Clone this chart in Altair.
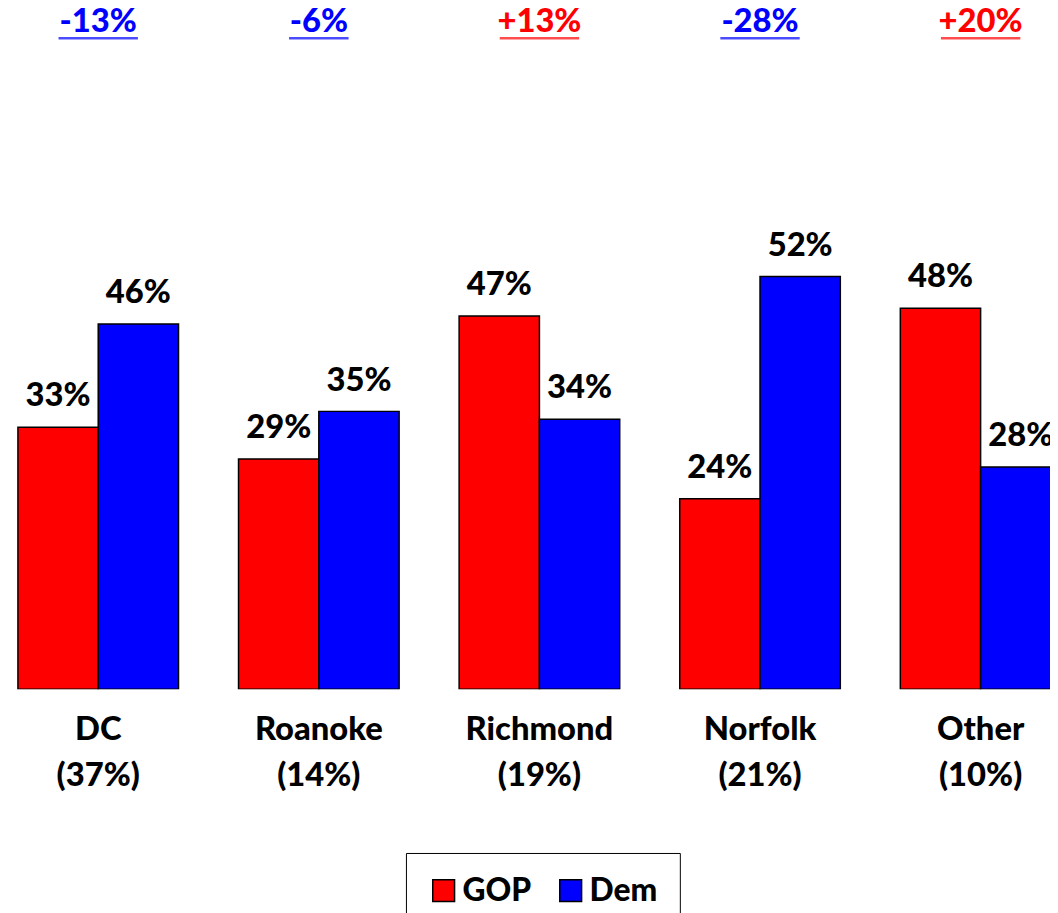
import altair as alt
import pandas as pd

regions = ["DC", "Roanoke", "Richmond", "Norfolk", "Other"]
shares = [37, 14, 19, 21, 10]
gop = [33, 29, 47, 24, 48]
dem = [46, 35, 34, 52, 28]
parties = ["GOP", "Dem"]
party_colors = ["#FF0000", "#0000FF"]

FONT = "Lato"
FS = 33
FW = 900

keys = [f"{r} ({s}%)" for r, s in zip(regions, shares)]

rows = []
for k, g, d in zip(keys, gop, dem):
    rows.append({"key": k, "party": "GOP", "value": g, "label": f"{g}%"})
    rows.append({"key": k, "party": "Dem", "value": d, "label": f"{d}%"})
bars_df = pd.DataFrame(rows)

mrows = []
for k, g, d in zip(keys, gop, dem):
    m = g - d
    txt = f"+{m}%" if m > 0 else f"{m}%"
    mrows.append({"key": k, "mtext": txt, "mcolor": "#FF0000" if m > 0 else "#0000FF",
                  "nchar": len(txt)})
marg_df = pd.DataFrame(mrows)

xscale = alt.Scale(domain=keys, range=[10, 1061], paddingInner=0.272, paddingOuter=0)
xenc = alt.X("key:N", scale=xscale, sort=keys, title=None,
             axis=alt.Axis(labelExpr="split(datum.label, ' ')", domain=False, ticks=False,
                           labelAngle=0, labelFont=FONT, labelFontSize=FS,
                           labelFontWeight=FW, labelColor="black",
                           labelLineHeight=46, labelPadding=25, grid=False))
yenc = alt.Y("value:Q", scale=alt.Scale(domain=[0, 85.375], nice=False, zero=True), axis=None)
xoff = alt.XOffset("party:N", sort=parties, scale=alt.Scale(domain=parties, paddingInner=0, paddingOuter=0))

bars = alt.Chart(bars_df).mark_bar(stroke="black", strokeWidth=1.5, clip=True).encode(
    x=xenc, y=yenc, xOffset=xoff,
    opacity=alt.value(1), fillOpacity=alt.value(1),
    fill=alt.Fill("party:N", sort=parties,
                  scale=alt.Scale(domain=parties, range=party_colors),
                  legend=alt.Legend(title=None, orient="none", legendX=401, legendY=848,
                                    direction="horizontal", strokeColor="black",
                                    fillColor="white", padding=22,
                                    symbolType="square", symbolSize=484,
                                    symbolOpacity=1,
                                    symbolStrokeColor="black", symbolStrokeWidth=1.5,
                                    labelFont=FONT, labelFontSize=32, labelFontWeight=FW,
                                    labelColor="black", labelOffset=3, columnPadding=23,
                                    labelLimit=300)),
)

bar_labels = alt.Chart(bars_df).mark_text(
    font=FONT, fontSize=FS, fontWeight=FW, color="black", baseline="alphabetic", dy=-21
).encode(x=alt.X("key:N", scale=xscale, sort=keys), y=yenc, xOffset=xoff, text="label:N")

marg_text = alt.Chart(marg_df).mark_text(
    font=FONT, fontSize=FS, fontWeight=FW, baseline="alphabetic"
).encode(x=alt.X("key:N", scale=xscale, sort=keys), y=alt.value(21), text="mtext:N",
         color=alt.Color("mcolor:N", scale=None))

underline = alt.Chart(marg_df).transform_calculate(
    w="datum.nchar * 20"
).mark_tick(orient="horizontal", thickness=2.5).encode(
    x=alt.X("key:N", scale=xscale, sort=keys), y=alt.value(27),
    size=alt.Size("w:Q", scale=None), color=alt.Color("mcolor:N", scale=None))

chart = alt.layer(bars, bar_labels, marg_text, underline).properties(
    width=1050, height=683,
    autosize=alt.AutoSizeParams(type="none"),
    padding={"left": 0, "top": 0, "right": 0, "bottom": 222},
).configure_view(stroke=None)

chart.save("out.html", embed_options={"renderer": "svg", "actions": False})
